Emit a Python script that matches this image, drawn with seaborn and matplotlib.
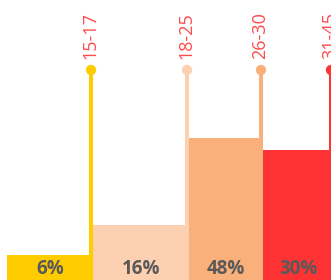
import matplotlib
matplotlib.use("Agg")
import matplotlib.pyplot as plt
import seaborn as sns
import pandas as pd

# Data
age_groups = ['15-17', '18-25', '26-30', '31-45']
shares = ['6%', '16%', '48%', '30%']
bar_heights = [25, 55, 142, 130]
bin_edges = [7, 93, 189, 263, 333]
stem_height = 210
colors = ['#ffcc00', '#fdd0b2', '#fab07b', '#ff3333']

sns.set_theme(style='white')
plt.rcParams['font.family'] = ['Open Sans', 'DejaVu Sans']

df = pd.DataFrame({'age': age_groups, 'height': bar_heights})

fig = plt.figure(figsize=(3.31, 2.80), dpi=100)
ax = fig.add_axes([0, 0, 1, 1])
sns.barplot(data=df, x='age', y='height', hue='age', palette=colors,
            width=1, saturation=1, legend=False, ax=ax)

# variable width bars
for i, bar in enumerate(ax.patches):
    bar.set_x(bin_edges[i])
    bar.set_width(bin_edges[i + 1] - bin_edges[i])
    bar.set_linewidth(0)

stem_x = [e - 2 for e in bin_edges[1:]]
ax.vlines(stem_x, 0, stem_height, colors=colors, linewidth=2.9, zorder=3)
sns.scatterplot(x=stem_x, y=[stem_height] * len(stem_x), hue=age_groups,
                palette=colors, s=55, linewidth=0, legend=False, ax=ax, zorder=4)

for i, age in enumerate(age_groups):
    ax.annotate(age, (stem_x[i] - 0.5, stem_height), xytext=(0, 8.2),
                textcoords='offset points', rotation=90, ha='center', va='bottom',
                color='#ff4a4a', fontsize=13)
    mid = (bin_edges[i] + bin_edges[i + 1]) / 2
    ax.text(mid, 10.5, shares[i], ha='center', va='center', fontsize=13.5,
            fontweight='bold', color='#595959')

ax.set_xlim(0, 331)
ax.set_ylim(0, 280)
ax.axis('off')

fig.savefig('out.png', dpi=100)
